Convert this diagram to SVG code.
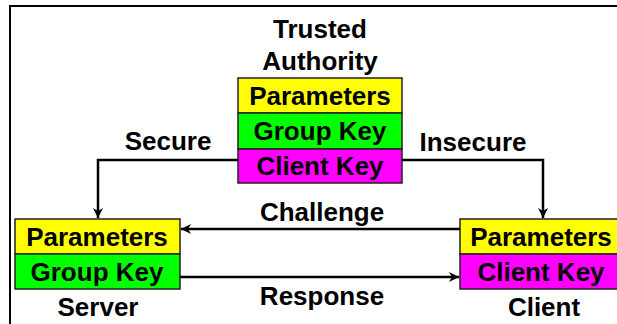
<svg xmlns="http://www.w3.org/2000/svg" width="617" height="324" viewBox="0 0 617 324">
<style>
text{font-family:"Liberation Sans",Arial,sans-serif;font-weight:bold;font-size:26px;fill:#000;text-anchor:middle}
.y{fill:#ffff00;stroke:#222;stroke-width:1.5}
.g{fill:#00ff00;stroke:#222;stroke-width:1.5}
.m{fill:#ff00ff;stroke:#222;stroke-width:1.5}
.c{fill:none;stroke:#000;stroke-width:2.5}
</style>
<defs>
<marker id="ah" viewBox="0 0 10 10" refX="10" refY="5" markerWidth="4" markerHeight="4" orient="auto" markerUnits="strokeWidth">
<path d="M0,0 L10,5 L0,10 L3,5 Z" fill="#000"/>
</marker>
</defs>
<rect x="0" y="0" width="617" height="324" fill="#fff"/>
<path d="M10,324 V6 H617" fill="none" stroke="#000" stroke-width="2"/>
<g id="authority">
<text x="320" y="38">Trusted</text>
<text x="320" y="70">Authority</text>
<rect class="y" x="238" y="78" width="164" height="35"/>
<rect class="g" x="238" y="113" width="164" height="36"/>
<rect class="m" x="238" y="149" width="164" height="34"/>
<text x="320" y="105">Parameters</text>
<text x="320" y="140">Group Key</text>
<text x="320" y="175">Client Key</text>
</g>
<g id="server">
<rect class="y" x="15" y="219" width="165" height="35"/>
<rect class="g" x="15" y="254" width="165" height="35"/>
<text x="97" y="246">Parameters</text>
<text x="97" y="281">Group Key</text>
<text x="98" y="316">Server</text>
</g>
<g id="client">
<rect class="y" x="460" y="219" width="170" height="35"/>
<rect class="m" x="460" y="254" width="170" height="35"/>
<text x="541" y="246">Parameters</text>
<text x="541" y="281">Client Key</text>
<text x="544" y="316">Client</text>
</g>
<g id="connectors">
<path class="c" d="M238,160 H98 V218" marker-end="url(#ah)"/>
<path class="c" d="M402,160 H543 V218" marker-end="url(#ah)"/>
<path class="c" d="M460,229 H181" marker-end="url(#ah)"/>
<path class="c" d="M180,277 H459" marker-end="url(#ah)"/>
<text x="168" y="150">Secure</text>
<text x="473" y="151">Insecure</text>
<text x="322" y="221">Challenge</text>
<text x="322" y="305">Response</text>
</g>
</svg>
